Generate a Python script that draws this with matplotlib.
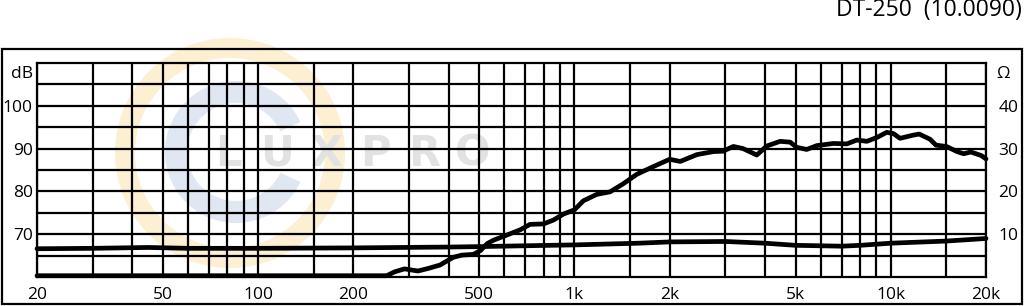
import matplotlib
matplotlib.use('Agg')
from matplotlib import pyplot as plt
from matplotlib.patches import Rectangle, Wedge
from matplotlib.ticker import FixedLocator, NullFormatter

plt.rcParams['font.family'] = ['Open Sans', 'DejaVu Sans']

# frequency response (Hz, dB)
spl_freq = [20, 100, 200, 255, 270, 290, 320, 345, 376, 414, 440, 480, 505, 530,
            555, 611, 673, 724, 798, 858, 923, 1000, 1067, 1176, 1296, 1428, 1575,
            1776, 2000, 2160, 2440, 2750, 2950, 3180, 3413, 3770, 4055, 4470, 4810,
            5040, 5420, 5840, 6590, 7260, 7810, 8400, 9040, 9710, 10200, 10700,
            11700, 12300, 13300, 13900, 15000, 16200, 17000, 17900, 19300, 20000]
spl_db = [60.3, 60.3, 60.3, 60.3, 61.2, 61.9, 61.4, 62.0, 62.8, 64.6, 65.1, 65.3,
          66.2, 67.8, 68.6, 69.8, 71.0, 72.3, 72.4, 73.3, 74.7, 75.7, 77.8, 79.3,
          79.9, 81.8, 84.0, 85.8, 87.5, 87.0, 88.6, 89.3, 89.4, 90.5, 90.0, 88.5,
          90.6, 91.7, 91.5, 90.3, 89.8, 90.7, 91.2, 91.1, 92.0, 91.7, 92.6, 93.8,
          93.5, 92.4, 93.1, 93.4, 92.2, 90.8, 90.5, 89.3, 88.8, 89.2, 88.4, 87.6]

# impedance (Hz, ohm)
imp_freq = [20, 30, 45, 60, 100, 200, 400, 500, 700, 1000, 1600, 2000, 3000,
            4000, 5000, 7000, 8000, 10000, 15000, 20000]
imp_ohm = [6.6, 6.7, 6.9, 6.7, 6.7, 6.8, 7.0, 7.1, 7.3, 7.5, 7.9, 8.2, 8.3,
           7.9, 7.4, 7.2, 7.4, 7.9, 8.4, 9.0]

label_freqs = [20, 50, 100, 200, 500, 1000, 2000, 5000, 10000, 20000]
label_text = ['20', '50', '100', '200', '500', '1k', '2k', '5k', '10k', '20k']
grid_freqs = [30, 40, 60, 70, 80, 90, 150, 300, 400, 600, 700, 800, 900, 1500,
              3000, 4000, 6000, 7000, 8000, 9000, 15000]
db_ticks = [70, 80, 90, 100]
ohm_ticks = [10, 20, 30, 40]

fig = plt.figure(figsize=(10.24, 3.06), dpi=100)

# background layer: frame and watermark, in pixel units
bg = fig.add_axes([0, 0, 1, 1])
bg.set_xlim(0, 1024)
bg.set_ylim(306, 0)
bg.axis('off')
bg.add_patch(Wedge((230, 153), 115, 0, 360, width=20, color='#fcefd2', lw=0))
bg.add_patch(Wedge((236, 152), 71, 25, 335, width=22, color='#dfe7f3', lw=0))
for i, ch in enumerate('LUXPRO'):
    bg.text(228 + i * 49, 154, ch, ha='center', va='center', fontsize=30,
            fontweight='bold', color='#e2e2e2', family='DejaVu Sans')
bg.add_patch(Rectangle((2, 49), 1020, 255, fill=False, ec='black', lw=1.6))

ax = fig.add_axes([37 / 1024, 29 / 306, 949 / 1024, 214 / 306])
ax.set_facecolor('none')
ax.set_xscale('log')
ax.set_xlim(20, 20000)
ax.set_ylim(60, 110)
ax.xaxis.set_major_locator(FixedLocator(label_freqs))
ax.xaxis.set_minor_locator(FixedLocator(grid_freqs))
ax.xaxis.set_minor_formatter(NullFormatter())
ax.set_xticklabels(label_text)
ax.set_yticks(db_ticks)
ax.yaxis.set_minor_locator(FixedLocator([65, 75, 85, 95, 105]))
ax.grid(which='both', color='black', lw=1.6)
ax.tick_params(which='both', length=0, labelsize=12.5)
ax.tick_params(axis='x', pad=7)
ax.tick_params(axis='y', pad=3)
for s in ax.spines.values():
    s.set_linewidth(1.6)
ax.text(-0.004, 107.5, 'dB', transform=ax.get_yaxis_transform(), ha='right',
        va='center', fontsize=12.5)

ax.plot(spl_freq, spl_db, color='black', lw=3.4, solid_joinstyle='round',
        solid_capstyle='round', clip_on=False, zorder=3)

ax2 = ax.twinx()
ax2.set_ylim(0, 50)
ax2.set_yticks(ohm_ticks)
ax2.tick_params(length=0, labelsize=12.5, pad=9)
for s in ax2.spines.values():
    s.set_visible(False)
ax2.text(1.0185, 47.5, 'Ω', transform=ax2.get_yaxis_transform(), ha='center',
         va='center', fontsize=12.5)
ax2.plot(imp_freq, imp_ohm, color='black', lw=3.4, solid_joinstyle='round',
         solid_capstyle='round', clip_on=False, zorder=3)

fig.text(1022 / 1024, 1 - 10 / 306, 'DT-250  (10.0090)', ha='right', va='center',
         fontsize=16.5)

fig.savefig('out.png', dpi=100)
